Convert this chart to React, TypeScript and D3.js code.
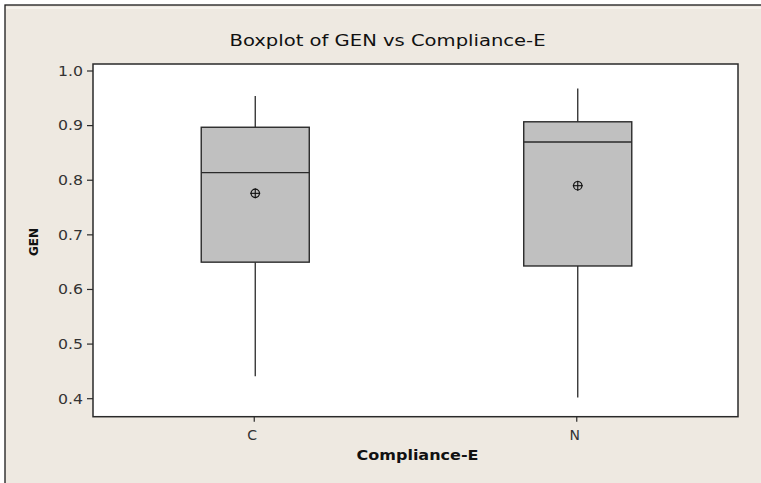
import React from "react";
import * as d3 from "d3";

const categories = ["C", "N"];
const whiskerLow = [0.441, 0.402];
const q1 = [0.65, 0.643];
const median = [0.814, 0.87];
const q3 = [0.897, 0.907];
const whiskerHigh = [0.954, 0.968];
const means = [0.776, 0.79];
const yTicks = [0.4, 0.5, 0.6, 0.7, 0.8, 0.9, 1.0];

const title = "Boxplot of GEN vs Compliance-E";
const xTitle = "Compliance-E";
const yTitle = "GEN";

const W = 761;
const H = 483;
const plot = { left: 93, top: 64, right: 738, bottom: 416.7 };
const FONT = "Tahoma, 'DejaVu Sans', Verdana, sans-serif";

export default function App() {
  const y = d3.scaleLinear().domain([0.4, 1.0]).range([398.7, 71]);
  const x = d3
    .scalePoint<string>()
    .domain(categories)
    .range([plot.left, plot.right])
    .padding(0.5);
  const boxW = x.step() * 0.335;
  const ink = "#2a2a2a";

  return (
    <svg
      width={W}
      height={H}
      style={{ position: "absolute", left: 0, top: 0, display: "block" }}
      fontFamily={FONT}
    >
      <rect x={0} y={0} width={W} height={H} fill="#ffffff" />
      <rect x={5} y={5} width={W + 20} height={H + 20} fill="#EEE9E1" stroke="#1a1a1a" strokeWidth={1.3} />
      <line x1={6} x2={W} y1={8} y2={8} stroke="#F6F3EE" strokeWidth={2} />

      <text
        x={387.5}
        y={46}
        textAnchor="middle"
        fontSize={16}
        fill="#111"
        textLength={316}
        lengthAdjust="spacingAndGlyphs"
      >
        {title}
      </text>

      <rect
        x={plot.left}
        y={plot.top}
        width={plot.right - plot.left}
        height={plot.bottom - plot.top}
        fill="#ffffff"
        stroke={ink}
        strokeWidth={1.5}
      />

      {yTicks.map((t) => (
        <g key={t}>
          <line x1={plot.left - 6} x2={plot.left} y1={y(t)} y2={y(t)} stroke={ink} strokeWidth={1.2} />
          <text
            x={83}
            y={y(t)}
            dy="0.36em"
            textAnchor="end"
            fontSize={13.5}
            fill="#333"
            textLength={25}
            lengthAdjust="spacingAndGlyphs"
          >
            {t.toFixed(1)}
          </text>
        </g>
      ))}

      {categories.map((c) => (
        <g key={c}>
          <line
            x1={x(c)!}
            x2={x(c)!}
            y1={plot.bottom}
            y2={plot.bottom + 5}
            stroke={ink}
            strokeWidth={1.2}
          />
          <text x={x(c)! - 2} y={440} textAnchor="middle" fontSize={14} fill="#333">
            {c}
          </text>
        </g>
      ))}

      {categories.map((c, i) => {
        const cx = x(c)! + 1;
        return (
          <g key={"box" + c}>
            <line x1={cx} x2={cx} y1={y(whiskerHigh[i])} y2={y(q3[i])} stroke={ink} strokeWidth={1.3} />
            <line x1={cx} x2={cx} y1={y(q1[i])} y2={y(whiskerLow[i])} stroke={ink} strokeWidth={1.3} />
            <rect
              x={cx - boxW / 2}
              y={y(q3[i])}
              width={boxW}
              height={y(q1[i]) - y(q3[i])}
              fill="#C0C0C0"
              stroke={ink}
              strokeWidth={1.4}
            />
            <line
              x1={cx - boxW / 2}
              x2={cx + boxW / 2}
              y1={y(median[i])}
              y2={y(median[i])}
              stroke={ink}
              strokeWidth={1.4}
            />
            <circle cx={cx} cy={y(means[i])} r={4.2} fill="none" stroke="#111" strokeWidth={1.2} />
            <line x1={cx - 5} x2={cx + 5} y1={y(means[i])} y2={y(means[i])} stroke="#111" strokeWidth={1.1} />
            <line x1={cx} x2={cx} y1={y(means[i]) - 5} y2={y(means[i]) + 5} stroke="#111" strokeWidth={1.1} />
          </g>
        );
      })}

      <text
        x={417.5}
        y={460}
        textAnchor="middle"
        fontSize={14}
        fontWeight="bold"
        fill="#111"
        textLength={122}
        lengthAdjust="spacingAndGlyphs"
      >
        {xTitle}
      </text>

      <text
        transform="translate(38,242) rotate(-90)"
        textAnchor="middle"
        fontSize={13}
        fontWeight="bold"
        fill="#111"
        textLength={28}
        lengthAdjust="spacingAndGlyphs"
      >
        {yTitle}
      </text>
    </svg>
  );
}
